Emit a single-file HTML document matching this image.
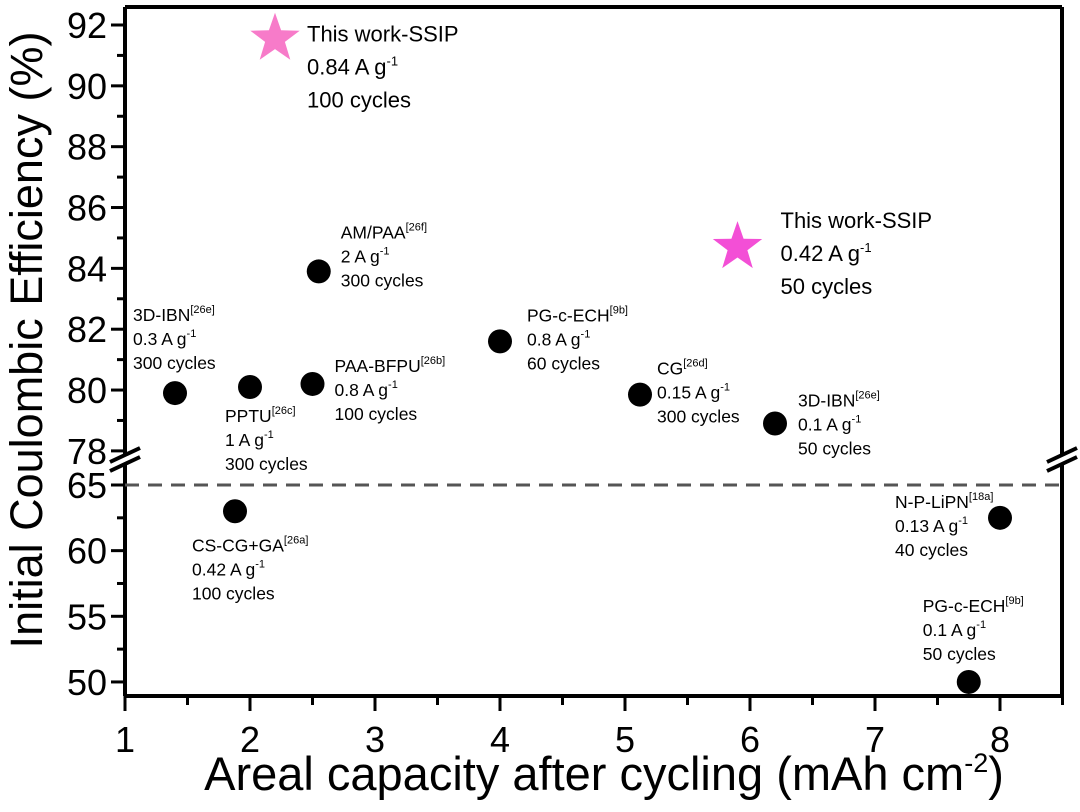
<!DOCTYPE html>
<html><head><meta charset="utf-8"><style>
body{margin:0;background:#fff;width:1080px;height:807px;overflow:hidden}
svg{font-family:"Liberation Sans",Arial,sans-serif}
</style></head><body>
<svg id="c" width="1080" height="807"></svg>
<script>
const dotX=[1.4,2.0,2.5,2.55,4.0,5.12,6.2,1.88,8.0,7.75];
const dotY=[79.9,80.1,80.2,83.9,81.6,79.85,78.9,63,62.5,50];
const dotNames=["3D-IBN","PPTU","PAA-BFPU","AM/PAA","PG-c-ECH","CG","3D-IBN","CS-CG+GA","N-P-LiPN","PG-c-ECH"];
const dotRefs=["26e","26c","26b","26f","9b","26d","26e","26a","18a","9b"];
const dotRates=["0.3","1","0.8","2","0.8","0.15","0.1","0.42","0.13","0.1"];
const dotCycles=["300","300","100","300","60","300","50","100","40","50"];
// label offsets relative to point (px)
const labDX=[-42,-25,22,22,27,17,23,-43,-105,-46];
const labDY=[-72,35,-12,-33,-20,-20,-17,40,-10,-70];
const starX=[2.2,5.9];
const starY=[91.55,84.7];
const starRates=["0.84","0.42"];
const starCycles=["100","50"];
const starColors=["#f77bc9","#f34fd6"];
const xTicks=[1,2,3,4,5,6,7,8];
const yTopTicks=[78,80,82,84,86,88,90,92];
const yBotTicks=[50,55,60,65];

const svg=document.getElementById('c');const NS="http://www.w3.org/2000/svg";
function el(t,a,p){const e=document.createElementNS(NS,t);for(const k in a)e.setAttribute(k,a[k]);(p||svg).appendChild(e);return e;}
const L=125,R=1062,T=7,B=696;
const xs=v=>L+(v-1)*125;
function ys(v){return v>=70?25+(92-v)*30.42:485+(65-v)*13.13;}
let f=el('path',{d:`M${L},${T}H${R}M${L},${B}H${R}M${L},${T}V455M${L},463V${B}M${R},${T}V455M${R},463V${B}`,stroke:'#000','stroke-width':4,fill:'none'});

[L,R].forEach(x=>{let b=el('path',{d:`M${x-15},462L${x+15},448M${x-15},471L${x+15},457`,stroke:'#000','stroke-width':4});
});
let dl=el('line',{x1:L,x2:R,y1:ys(65),y2:ys(65),stroke:'#555','stroke-width':3,'stroke-dasharray':'14,9'});

xTicks.forEach(v=>{el('line',{x1:xs(v),x2:xs(v),y1:B,y2:B+15,stroke:'#000','stroke-width':3});
el('line',{x1:xs(v+0.5),x2:xs(v+0.5),y1:B,y2:B+9,stroke:'#000','stroke-width':3});
let t=el('text',{x:xs(v),y:752,'font-size':36,'text-anchor':'middle'});t.textContent=v;
});
yTopTicks.forEach(v=>{el('line',{x1:L-14,x2:L,y1:ys(v),y2:ys(v),stroke:'#000','stroke-width':3});
if(v<92)el('line',{x1:L-8,x2:L,y1:ys(v+1),y2:ys(v+1),stroke:'#000','stroke-width':3});
let t=el('text',{x:L-18,y:ys(v)+13,'font-size':36,'text-anchor':'end'});t.textContent=v;
});
yBotTicks.forEach(v=>{el('line',{x1:L-14,x2:L,y1:ys(v),y2:ys(v),stroke:'#000','stroke-width':3});
if(v<65)el('line',{x1:L-8,x2:L,y1:ys(v+2.5),y2:ys(v+2.5),stroke:'#000','stroke-width':3});
let t=el('text',{x:L-18,y:ys(v)+13,'font-size':36,'text-anchor':'end'});t.textContent=v;
});
let xt=el('text',{x:604,y:790,'font-size':47,'text-anchor':'middle'});xt.innerHTML='Areal capacity after cycling (mAh cm<tspan font-size="27" dy="-18">-2</tspan><tspan dy="18">)</tspan>';

let yt=el('text',{x:0,y:0,'font-size':45,'text-anchor':'middle',transform:'translate(42,340) rotate(-90)'});yt.textContent='Initial Coulombic Efficiency (%)';

dotX.forEach((x,i)=>{const cx=xs(x),cy=ys(dotY[i]);
let c=el('circle',{cx,cy,r:12,fill:'#000'});
const lx=cx+labDX[i];
const g=el('text',{x:lx,y:cy+labDY[i],'font-size':17.5});

g.innerHTML=`<tspan>${dotNames[i]}</tspan><tspan font-size="11" dy="-8">[${dotRefs[i]}]</tspan><tspan x="${lx}" dy="32">${dotRates[i]} A g</tspan><tspan font-size="11" dy="-8">-1</tspan><tspan x="${lx}" dy="32">${dotCycles[i]} cycles</tspan>`;});
function starPath(cx,cy,r){let p=[];for(let k=0;k<10;k++){const a=-Math.PI/2+k*Math.PI/5;const rr=k%2?r*0.4:r;p.push((cx+rr*Math.cos(a)).toFixed(1)+','+(cy+rr*Math.sin(a)).toFixed(1));}return 'M'+p.join('L')+'Z';}
starX.forEach((x,i)=>{const cx=xs(x),cy=ys(starY[i]);
let s=el('path',{d:starPath(cx,cy,26),fill:starColors[i]});
const lx=i==0?cx+32:cx+43, ly=i==0?cy+3:cy-19, fs=22;
const g=el('text',{x:lx,y:ly,'font-size':fs});

g.innerHTML=`<tspan>This work-SSIP</tspan><tspan x="${lx}" dy="33">${starRates[i]} A g</tspan><tspan font-size="13" dy="-9">-1</tspan><tspan x="${lx}" dy="42">${starCycles[i]} cycles</tspan>`;});
</script>
</body></html>
